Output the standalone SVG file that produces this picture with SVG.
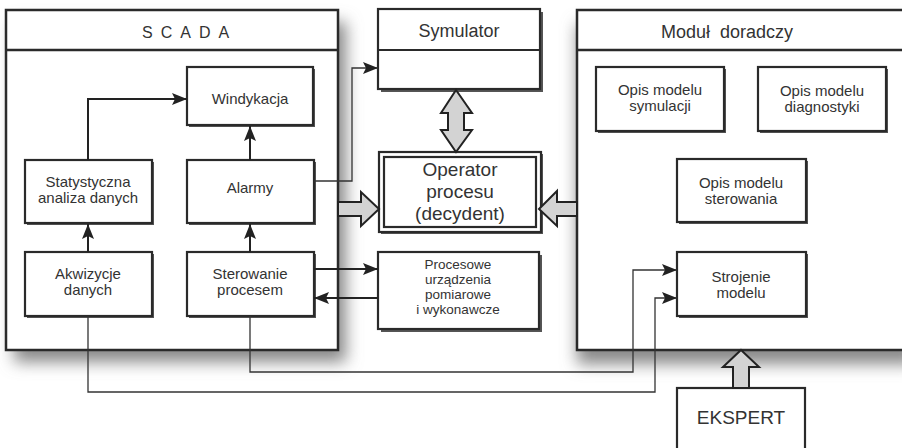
<svg xmlns="http://www.w3.org/2000/svg" width="902" height="448" viewBox="0 0 902 448">
<defs>
<filter id="blur" x="-20%" y="-20%" width="140%" height="140%"><feGaussianBlur stdDeviation="8"/></filter>
<marker id="ah" markerWidth="16" markerHeight="14" refX="15" refY="6" orient="auto" markerUnits="userSpaceOnUse"><path d="M0,0 L15,6 L0,12 L3,6 Z" fill="#222"/></marker>
</defs>
<style>
.box{fill:#fff;stroke:#2a2a2a;stroke-width:2.2}
.frame{fill:#fff;stroke:#2a2a2a;stroke-width:2.5}
.sh{fill:#555}
.t{font-family:"Liberation Sans",Arial,sans-serif;font-size:15px;fill:#333;text-anchor:middle}
.h{font-size:18px}
.s{font-size:13.5px}
.c{fill:none;stroke:#222;stroke-width:2}
.thin{fill:none;stroke:#333;stroke-width:1.3}
.big{fill:#d3d3d3;stroke:#222;stroke-width:2}
</style>
<g id="shadows">
<rect x="14" y="22" width="332" height="340" fill="#888" filter="url(#blur)"/>
<rect x="577" y="24" width="340" height="340" fill="#888" filter="url(#blur)"/>
</g>
<g id="scada">
<rect class="frame" x="6" y="10" width="332" height="340"/>
<line x1="6" y1="50" x2="338" y2="50" stroke="#2a2a2a" stroke-width="2.5"/>
<text class="t" x="142" y="38" style="font-size:16px;text-anchor:start;letter-spacing:8px">SCADA</text>
</g>
<g id="modul">
<rect class="frame" x="577" y="10" width="330" height="340"/>
<line x1="577" y1="50" x2="907" y2="50" stroke="#2a2a2a" stroke-width="2.5"/>
<text class="t h" x="727" y="38" xml:space="preserve">Moduł  doradczy</text>
</g>
<g id="symulator">
<rect class="sh" x="381" y="12" width="162" height="80"/>
<rect class="box" x="378" y="9" width="162" height="80"/>
<line x1="378" y1="50" x2="540" y2="50" stroke="#2a2a2a" stroke-width="2.2"/>
<text class="t h" x="459" y="37">Symulator</text>
</g>
<g id="operator">
<rect class="sh" x="381" y="154" width="162" height="80"/>
<rect class="box" x="379" y="152" width="162" height="80"/>
<rect class="box" x="384" y="157" width="152" height="70" stroke-width="2"/>
<text class="t" x="460" y="176" style="font-size:19px">Operator</text>
<text class="t" x="460" y="198" style="font-size:19px">procesu</text>
<text class="t" x="460" y="220" style="font-size:19px">(decydent)</text>
</g>
<g id="windykacja">
<rect class="sh" x="189" y="69" width="126" height="58"/>
<rect class="box" x="187" y="67" width="126" height="58"/>
<text class="t" x="250" y="104">Windykacja</text>
</g>
<g id="alarmy">
<rect class="sh" x="189" y="162" width="127" height="63"/>
<rect class="box" x="187" y="160" width="127" height="63"/>
<text class="t" x="250" y="193">Alarmy</text>
</g>
<g id="statystyczna">
<rect class="sh" x="27" y="162" width="127" height="63"/>
<rect class="box" x="25" y="160" width="127" height="63"/>
<text class="t" x="88" y="187">Statystyczna</text>
<text class="t" x="88" y="203">analiza danych</text>
</g>
<g id="akwizycje">
<rect class="sh" x="27" y="254" width="127" height="64"/>
<rect class="box" x="25" y="252" width="127" height="64"/>
<text class="t" x="88" y="279">Akwizycje</text>
<text class="t" x="88" y="295">danych</text>
</g>
<g id="sterowanie">
<rect class="sh" x="189" y="254" width="127" height="64"/>
<rect class="box" x="187" y="252" width="127" height="64"/>
<text class="t" x="250" y="279">Sterowanie</text>
<text class="t" x="250" y="295">procesem</text>
</g>
<g id="procesowe">
<rect class="sh" x="381" y="255" width="161" height="77"/>
<rect class="box" x="378" y="252" width="161" height="77"/>
<text class="t s" x="458" y="269">Procesowe</text>
<text class="t s" x="458" y="284">urządzenia</text>
<text class="t s" x="458" y="299">pomiarowe</text>
<text class="t s" x="458" y="314">i wykonawcze</text>
</g>
<g id="opis-symulacji">
<rect class="sh" x="598" y="69" width="128" height="64"/>
<rect class="box" x="596" y="67" width="128" height="64"/>
<text class="t" x="660" y="95">Opis modelu</text>
<text class="t" x="660" y="111">symulacji</text>
</g>
<g id="opis-diagnostyki">
<rect class="sh" x="760" y="69" width="128" height="64"/>
<rect class="box" x="758" y="67" width="128" height="64"/>
<text class="t" x="822" y="96">Opis modelu</text>
<text class="t" x="822" y="112">diagnostyki</text>
</g>
<g id="opis-sterowania">
<rect class="sh" x="679" y="161" width="129" height="63"/>
<rect class="box" x="677" y="159" width="129" height="63"/>
<text class="t" x="741" y="188">Opis modelu</text>
<text class="t" x="741" y="204">sterowania</text>
</g>
<g id="strojenie">
<rect class="sh" x="679" y="254" width="129" height="64"/>
<rect class="box" x="677" y="252" width="129" height="64"/>
<text class="t" x="741" y="282">Strojenie</text>
<text class="t" x="741" y="298">modelu</text>
</g>
<g id="ekspert">
<rect class="box" x="677" y="388" width="128" height="75"/>
<text class="t" x="741" y="424" style="font-size:19px">EKSPERT</text>
</g>
<g id="connectors">
<path class="c" d="M88,160 V99 H187" marker-end="url(#ah)"/>
<path class="c" d="M250,160 V126" marker-end="url(#ah)"/>
<path class="c" d="M88,252 V224" marker-end="url(#ah)"/>
<path class="c" d="M250,252 V224" marker-end="url(#ah)"/>
<path class="thin" d="M314,181 H352 V68 H378" marker-end="url(#ah)"/>
<path class="c" d="M314,269 H378" marker-end="url(#ah)"/>
<path class="c" d="M378,298 H314" marker-end="url(#ah)"/>
<path class="thin" d="M250,316 V372 H633 V270 H677" marker-end="url(#ah)"/>
<path class="thin" d="M88,316 V392 H655 V298 H677" marker-end="url(#ah)"/>
<polygon class="big" points="338,202 361,202 361,192 379,209 361,226 361,216 338,216"/>
<polygon class="big" points="577,202 557,202 557,191 539,209 557,226 557,216 577,216"/>
<polygon class="big" points="456,90 472,113 464,113 464,130 472,130 456,152 441,130 448,130 448,113 441,113"/>
<polygon class="big" points="741,350 759,367 749,367 749,388 733,388 733,367 723,367"/>
</g>
</svg>
